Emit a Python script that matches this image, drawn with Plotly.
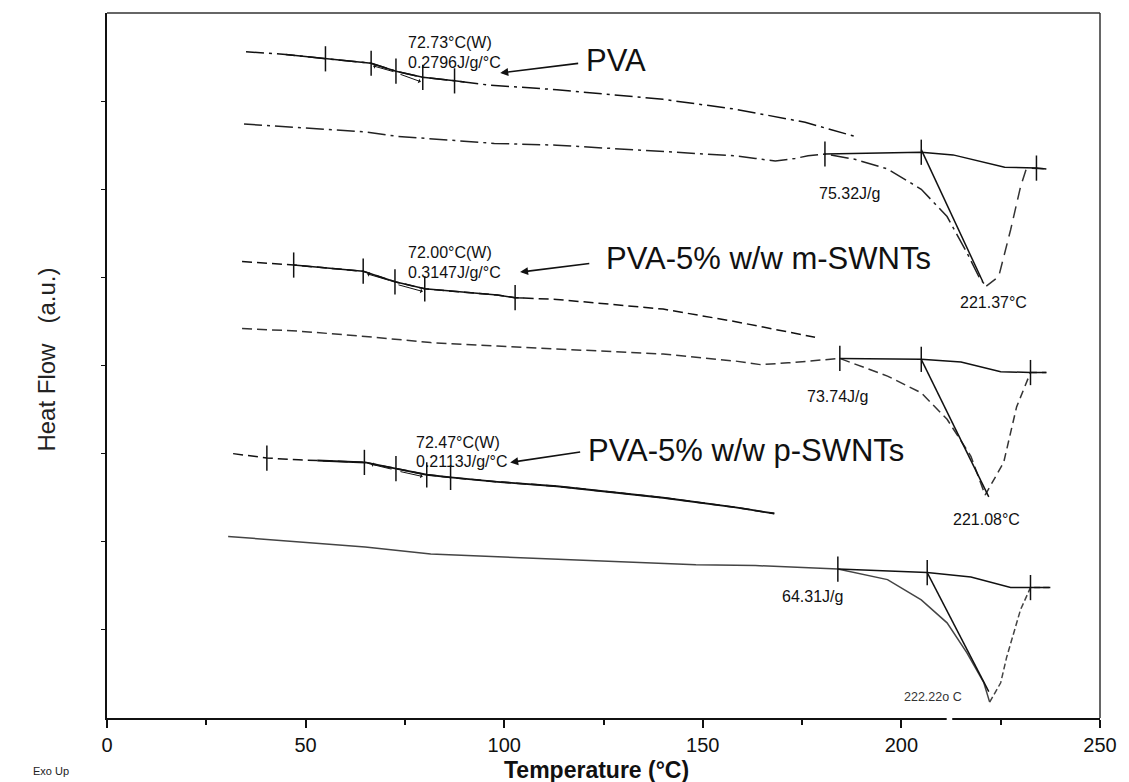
import numpy as np
import plotly.graph_objects as go

# ---------------- data (Temperature in °C, Heat Flow in a.u.) ----------------
# PVA
pva_cool_T = [35, 45, 55, 66.5, 72.75, 79.5, 87.5, 96.5, 113.25, 140, 158, 175.75, 188.25]
pva_cool_H = [7.56, 7.53, 7.48, 7.43, 7.34, 7.27, 7.23, 7.18, 7.13, 7.02, 6.91, 6.76, 6.60]
pva_heat_T = [34.5, 48.25, 65, 73.25, 81.5, 97.5, 113.25, 140, 158, 163.25, 168.25, 173.25,
              176.5, 180.75, 188.25, 196.5, 205, 211.5, 216.5, 219.8, 221.37]
pva_heat_H = [6.74, 6.70, 6.65, 6.60, 6.57, 6.52, 6.50, 6.43, 6.38, 6.35, 6.32, 6.35,
              6.38, 6.40, 6.34, 6.23, 6.00, 5.69, 5.28, 4.98, 4.90]
pva_rise_T = [221.37, 224.5, 227.5, 230, 231.5, 236.5]
pva_rise_H = [4.90, 5.01, 5.54, 6.03, 6.24, 6.23]
pva_base_T = [180.75, 195, 205, 213, 220, 226, 234, 236.5]
pva_base_H = [6.40, 6.41, 6.42, 6.39, 6.31, 6.25, 6.24, 6.23]
pva_tan_T = [205, 220.5]
pva_tan_H = [6.45, 4.95]
pva_tg_ticks = [55, 66.5, 72.75, 79.5, 87.5]
pva_peak_ticks = [180.75, 205, 234]

# PVA-5% w/w m-SWNTs
m_cool_T = [34, 47, 64.5, 72.5, 80, 98.25, 102.75, 113.25, 140, 158, 178.25]
m_cool_H = [5.18, 5.14, 5.07, 4.95, 4.87, 4.80, 4.77, 4.75, 4.64, 4.50, 4.32]
m_heat_T = [34, 48.25, 65, 81.5, 98.25, 113.25, 140, 158.25, 164.5, 171.5, 184.5,
            196.5, 205, 211.5, 217.5, 221.08]
m_heat_H = [4.42, 4.39, 4.33, 4.26, 4.22, 4.19, 4.13, 4.05, 4.01, 4.03, 4.08,
            3.88, 3.69, 3.39, 2.97, 2.53]
m_rise_T = [221.08, 225.75, 229, 232.5, 236.5]
m_rise_H = [2.53, 2.90, 3.53, 3.92, 3.92]
m_base_T = [184.5, 205, 215, 225, 232.5, 236.5]
m_base_H = [4.08, 4.07, 4.04, 3.93, 3.92, 3.92]
m_tan_T = [205, 222]
m_tan_H = [4.07, 2.51]
m_tg_ticks = [47, 64.5, 72.5, 80, 102.75]
m_peak_ticks = [184.5, 205, 232.5]

# PVA-5% w/w p-SWNTs
p_cool_T = [31.75, 40.25, 48.25, 65, 72.75, 80.5, 86.5, 98.25, 113.25, 140, 158.25, 168]
p_cool_H = [3.00, 2.95, 2.93, 2.90, 2.83, 2.76, 2.73, 2.68, 2.63, 2.50, 2.39, 2.32]
p_heat_T = [30.5, 48.25, 65, 81.5, 98.25, 113.25, 148.25, 163.25, 184, 196.5, 205,
            211.5, 216.5, 220.75, 222.22]
p_heat_H = [2.06, 2.00, 1.94, 1.86, 1.83, 1.80, 1.74, 1.73, 1.69, 1.57, 1.34,
            1.08, 0.74, 0.40, 0.18]
p_rise_T = [222.22, 225, 226.5, 230, 232.5, 237.5]
p_rise_H = [0.18, 0.40, 0.69, 1.23, 1.48, 1.48]
p_base_T = [184, 206.5, 217.5, 227.5, 232.5, 237.5]
p_base_H = [1.69, 1.65, 1.60, 1.48, 1.48, 1.48]
p_tan_T = [206.5, 222]
p_tan_H = [1.65, 0.30]
p_tg_ticks = [40.25, 64.8, 72.75, 80.5, 86.5]
p_peak_ticks = [184, 206.5, 232.5]

x_ticks = [0, 50, 100, 150, 200, 250]

# ---------------- helpers ----------------
BLACK = "#111111"
FONT = "Liberation Sans, Arial, sans-serif"
DASHDOT = "18px,5px,3px,5px"
DASH = "10px,5px"

fig = go.Figure()


def line(T, H, dash="solid", color=BLACK, width=1.5):
    fig.add_trace(go.Scatter(x=T, y=H, mode="lines", hoverinfo="skip",
                             line=dict(color=color, width=width, dash=dash),
                             showlegend=False))


def segment(T, H, t0, t1):
    T = np.asarray(T, float)
    H = np.asarray(H, float)
    inner = (T > t0) & (T < t1)
    xs = np.concatenate([[t0], T[inner], [t1]])
    ys = np.interp(xs, T, H)
    return xs, ys


def ticks(Tt, T, H, size=18):
    fig.add_trace(go.Scatter(x=Tt, y=np.interp(Tt, T, H), mode="markers", hoverinfo="skip",
                             marker=dict(symbol="line-ns", size=size,
                                         line=dict(color=BLACK, width=1.5)),
                             showlegend=False))


# PVA curves
line(pva_cool_T, pva_cool_H, DASHDOT)
line(*segment(pva_cool_T, pva_cool_H, 45, 90))
line(pva_heat_T, pva_heat_H, DASHDOT, color="#222222")
line(pva_rise_T, pva_rise_H, "12px,7px", color="#333333")
line(pva_base_T, pva_base_H)
line(pva_tan_T, pva_tan_H)
ticks(pva_tg_ticks, pva_cool_T, pva_cool_H)
ticks(pva_peak_ticks, pva_base_T, pva_base_H)

# m-SWNTs curves
line(m_cool_T, m_cool_H, DASH)
line(*segment(m_cool_T, m_cool_H, 47, 105))
line(m_heat_T, m_heat_H, DASH, color="#333333")
line(m_rise_T, m_rise_H, "8px,5px", color="#333333")
line(m_base_T, m_base_H)
line(m_tan_T, m_tan_H)
ticks(m_tg_ticks, m_cool_T, m_cool_H)
ticks(m_peak_ticks, m_base_T, m_base_H)

# p-SWNTs curves
line(p_cool_T, p_cool_H, DASH)
line(*segment(p_cool_T, p_cool_H, 53, p_cool_T[-1]), width=1.9)
line(p_heat_T, p_heat_H, color="#444444")
line(p_rise_T, p_rise_H, "6px,3px", color="#444444")
line(p_base_T, p_base_H)
line(p_tan_T, p_tan_H)
ticks(p_tg_ticks, p_cool_T, p_cool_H)
ticks(p_peak_ticks, p_base_T, p_base_H)

# ---------------- annotations ----------------
ann = []


def text(x, y, s, size=16, xanchor="left", color=BLACK):
    ann.append(dict(x=x, y=y, xref="x", yref="y", text=s, showarrow=False,
                    xanchor=xanchor, yanchor="middle",
                    font=dict(family=FONT, size=size, color=color)))


def arrow(x, y, ax, ay, size=1.0, width=1.6, head=2):
    ann.append(dict(x=x, y=y, ax=ax, ay=ay, xref="x", yref="y", axref="x", ayref="y",
                    text="", showarrow=True, arrowhead=head, arrowsize=size,
                    arrowwidth=width, arrowcolor=BLACK))


# glass transition labels
text(75.3, 7.67, "72.73°C(W)")
text(75.3, 7.44, "0.2796J/g/°C")
text(75.3, 5.28, "72.00°C(W)")
text(75.3, 5.05, "0.3147J/g/°C")
text(77.3, 3.13, "72.47°C(W)")
text(77.3, 2.91, "0.2113J/g/°C")

# melting labels
text(187.0, 5.95, "75.32J/g", xanchor="center")
text(223.3, 4.72, "221.37°C", xanchor="center")
text(183.8, 3.65, "73.74J/g", xanchor="center")
text(221.5, 2.25, "221.08°C", xanchor="center")
text(177.5, 1.375, "64.31J/g", xanchor="center")
text(208, 0.24, "222.22o C", size=12.5, xanchor="center", color="#333333")

# sample labels
text(120.0, 7.46, "PVA", size=31)
text(125.0, 5.21, "PVA-5% w/w m-SWNTs", size=31)
text(120.5, 3.03, "PVA-5% w/w p-SWNTs", size=31)
arrow(99.0, 7.32, 119.0, 7.43)
arrow(104.0, 5.06, 121.8, 5.16)
arrow(101.5, 2.90, 119.5, 3.02)

# small Tg double arrows
arrow(67.0, 7.40, 72.5, 7.33, size=0.8, width=1.0, head=1)
arrow(79.0, 7.22, 73.5, 7.31, size=0.8, width=1.0, head=1)
arrow(65.5, 5.04, 71.5, 4.96, size=0.8, width=1.0, head=1)
arrow(79.5, 4.84, 73.0, 4.92, size=0.8, width=1.0, head=1)
arrow(66.5, 2.88, 72.0, 2.82, size=0.8, width=1.0, head=1)
arrow(79.5, 2.74, 73.5, 2.80, size=0.8, width=1.0, head=1)

# axis titles / misc (placed in paper coordinates)
ann.append(dict(x=-0.0607, y=0.508, xref="paper", yref="paper", text="Heat Flow   (a.u.)",
                showarrow=False, textangle=-90, xanchor="center", yanchor="middle",
                font=dict(family=FONT, size=24, color="#222222")))
ann.append(dict(x=0.493, y=-0.0735, xref="paper", yref="paper", text="<b>Temperature (°C)</b>",
                showarrow=False, xanchor="center", yanchor="middle",
                font=dict(family=FONT, size=23, color=BLACK)))
ann.append(dict(x=-0.0567, y=-0.075, xref="paper", yref="paper", text="Exo Up",
                showarrow=False, xanchor="center", yanchor="middle",
                font=dict(family=FONT, size=11, color="#222222")))

shapes = [
    # top and right frame lines
    dict(type="line", xref="paper", yref="paper", x0=0, x1=1, y0=1, y1=1,
         line=dict(color="#333333", width=1.5)),
    dict(type="line", xref="paper", yref="paper", x0=1, x1=1, y0=0, y1=1,
         line=dict(color="#333333", width=1.5)),
    # small break in the bottom axis line
    dict(type="line", xref="x", yref="paper", x0=211.4, x1=212.8, y0=0, y1=0,
         line=dict(color="white", width=5), layer="above"),
]

fig.update_layout(
    width=1129, height=782,
    margin=dict(l=107, r=17, t=13, b=64),
    paper_bgcolor="white", plot_bgcolor="white",
    annotations=ann, shapes=shapes,
    showlegend=False,
    font=dict(family=FONT, color=BLACK),
)
fig.update_xaxes(
    range=[0, 250], tickvals=x_ticks, ticks="outside", ticklen=8, tickwidth=1.5,
    tickcolor=BLACK, showline=True, linecolor=BLACK, linewidth=2,
    showgrid=False, zeroline=False,
    minor=dict(dtick=25, ticks="outside", ticklen=5, tickcolor=BLACK, showgrid=False),
    tickfont=dict(family=FONT, size=20, color=BLACK),
)
fig.update_yaxes(
    range=[0, 8], tickvals=[1, 2, 3, 4, 5, 6, 7], ticks="outside", ticklen=4,
    tickcolor=BLACK, showticklabels=False, showline=True, linecolor=BLACK, linewidth=2,
    showgrid=False, zeroline=False,
)

fig.write_html("out.html")
